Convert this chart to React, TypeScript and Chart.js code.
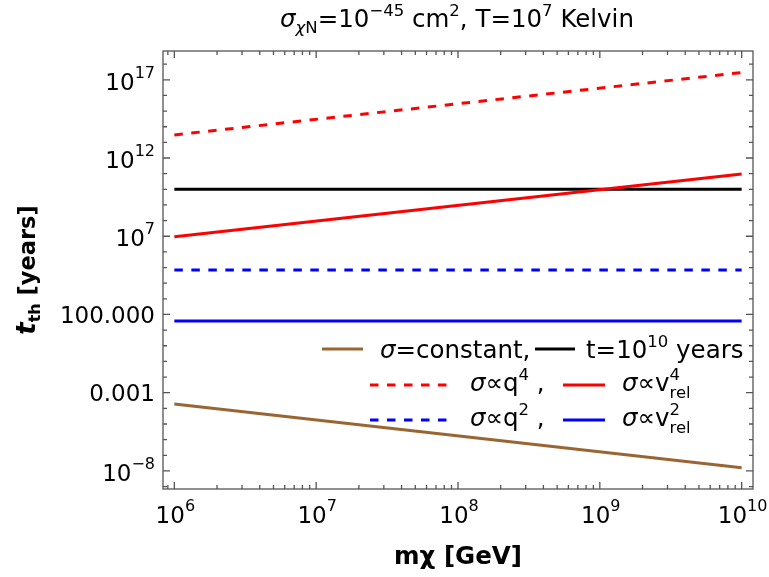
import React, { useEffect, useRef } from "react";
import { Chart, registerables } from "chart.js";
Chart.register(...registerables);

// ---- data ----
const masses = [1e6, 1e10]; // m_chi [GeV]
const tConstant = [1.9e-4, 1.6e-8]; // sigma = constant
const tAge = [1e10, 1e10]; // t = 10^10 years
const tQ4 = [3.0e13, 2.9e17]; // sigma ∝ q^4
const tV4 = [9.3e6, 9.6e10]; // sigma ∝ v_rel^4
const tQ2 = [6.9e4, 6.9e4]; // sigma ∝ q^2
const tV2 = [38, 38]; // sigma ∝ v_rel^2

const xMajorExps = [6, 7, 8, 9, 10];
const xTickBase = ["10", "10", "10", "10", "10"];
const xTickSup = ["6", "7", "8", "9", "10"];
const yMajorExps = [17, 12, 7, 2, -3, -8];
const yTickBase = ["10", "10", "10", "100.000", "0.001", "10"];
const yTickSup = ["17", "12", "7", "", "", "\u22128"];

const X_MIN_EXP = 5.92;
const X_MAX_EXP = 10.08;
const Y_MIN_EXP = -9.15;
const Y_MAX_EXP = 18.84;

const FONT = '"DejaVu Sans", sans-serif';
const BROWN = "#996633";
const RED = "#ff0000";
const BLUE = "#0000ff";
const FRAME = "#555555";

type Run = { t: string; size: number; dy?: number; italic?: boolean; bold?: boolean; back?: boolean };

function runFont(r: Run) {
  return `${r.italic ? "italic " : ""}${r.bold ? "bold " : ""}${r.size}px ${FONT}`;
}

function drawRuns(ctx: CanvasRenderingContext2D, runs: Run[], x: number, y: number, align: string, sx = 1) {
  const pos: number[] = [];
  let cx = 0;
  let prevStart = 0;
  for (const r of runs) {
    ctx.font = runFont(r);
    const w = ctx.measureText(r.t).width;
    const start = r.back ? prevStart : cx;
    pos.push(start);
    prevStart = start;
    cx = r.back ? Math.max(cx, start + w) : start + w;
  }
  const total = cx * sx;
  const x0 = align === "center" ? x - total / 2 : align === "right" ? x - total : x;
  ctx.save();
  ctx.translate(x0, y);
  ctx.scale(sx, 1);
  ctx.textAlign = "left";
  ctx.textBaseline = "alphabetic";
  runs.forEach((r, i) => {
    ctx.font = runFont(r);
    ctx.fillText(r.t, pos[i], r.dy || 0);
  });
  ctx.restore();
  return total;
}

const framePlugin = {
  id: "framePlugin",
  afterDraw(chart: any) {
    const ctx: CanvasRenderingContext2D = chart.ctx;
    const { left, right, top, bottom } = chart.chartArea;
    const xs = chart.scales.x;
    const ys = chart.scales.y;
    ctx.save();
    ctx.fillStyle = "#000";
    // frame
    ctx.strokeStyle = FRAME;
    ctx.lineWidth = 1.3;
    ctx.strokeRect(left, top, right - left, bottom - top);
    // x ticks
    ctx.beginPath();
    for (let d = 5; d <= 10; d++) {
      for (let k = 1; k <= 9; k++) {
        const v = k * Math.pow(10, d);
        const e = Math.log10(v);
        if (e < X_MIN_EXP || e > X_MAX_EXP) continue;
        const px = xs.getPixelForValue(v);
        const len = k === 1 ? 7 : 4;
        ctx.moveTo(px, bottom);
        ctx.lineTo(px, bottom - len);
        ctx.moveTo(px, top);
        ctx.lineTo(px, top + len);
      }
    }
    // y ticks
    for (let e = Math.ceil(Y_MIN_EXP); e <= Math.floor(Y_MAX_EXP); e++) {
      const py = ys.getPixelForValue(Math.pow(10, e));
      const len = yMajorExps.includes(e) ? 7 : 4;
      ctx.moveTo(left, py);
      ctx.lineTo(left + len, py);
      ctx.moveTo(right, py);
      ctx.lineTo(right - len, py);
    }
    ctx.stroke();

    // x tick labels
    ctx.fillStyle = "#000";
    xMajorExps.forEach((e, i) => {
      const px = xs.getPixelForValue(Math.pow(10, e));
      drawRuns(ctx, [
        { t: xTickBase[i], size: 23 },
        { t: xTickSup[i], size: 16, dy: -12 },
      ], px + 1, bottom + 34, "center");
    });
    // y tick labels
    yMajorExps.forEach((e, i) => {
      const py = ys.getPixelForValue(Math.pow(10, e));
      const runs: Run[] = [{ t: yTickBase[i], size: 23 }];
      let base = py + 8.5;
      if (yTickSup[i]) {
        runs.push({ t: yTickSup[i], size: 16, dy: -12 });
        base = py + 10;
      }
      drawRuns(ctx, runs, left - 8, base, "right");
    });

    // title
    const cxm = (left + right) / 2;
    drawRuns(ctx, [
      { t: "\u03c3", size: 24.5, italic: true },
      { t: "\u03c7", size: 16.5, dy: 6, italic: true },
      { t: "N", size: 16.5, dy: 6 },
      { t: "=10", size: 24.5 },
      { t: "\u221245", size: 16.5, dy: -11 },
      { t: " cm", size: 24.5 },
      { t: "2", size: 16.5, dy: -11 },
      { t: ", T=10", size: 24.5 },
      { t: "7", size: 16.5, dy: -11 },
      { t: " Kelvin", size: 24.5 },
    ], cxm - 1, 27, "center");

    // x axis title
    drawRuns(ctx, [
      { t: "m\u03c7 [GeV]", size: 24.5, bold: true },
    ], cxm, 564, "center");

    // y axis title
    ctx.save();
    ctx.translate(35, 270);
    ctx.rotate(-Math.PI / 2);
    drawRuns(ctx, [
      { t: "t", size: 26, bold: true, italic: true },
      { t: "th", size: 16, bold: true, dy: 5 },
      { t: " [years]", size: 22.5, bold: true },
    ], 0, 0, "center");
    ctx.restore();

    // legend
    const sample = (x1: number, x2: number, y: number, color: string, dash: number[]) => {
      ctx.save();
      ctx.strokeStyle = color;
      ctx.lineWidth = 3;
      ctx.setLineDash(dash);
      ctx.beginPath();
      ctx.moveTo(x1, y);
      ctx.lineTo(x2, y);
      ctx.stroke();
      ctx.restore();
    };
    const DASH = [8.5, 8.5];
    const LS = 24.5;
    const SS = 16.5;
    const r1 = 349, r2 = 385, r3 = 420;
    sample(322, 363, r1, BROWN, []);
    drawRuns(ctx, [{ t: "\u03c3", size: LS, italic: true }, { t: "=constant,", size: LS }], 380, r1 + 9, "left");
    sample(535, 575, r1, "#000", []);
    drawRuns(ctx, [{ t: "t=10", size: LS }, { t: "10", size: SS, dy: -11 }, { t: " years", size: LS }], 586, r1 + 9, "left");

    sample(370, 447, r2, RED, DASH);
    drawRuns(ctx, [{ t: "\u03c3", size: LS, italic: true }, { t: "\u221dq", size: LS }, { t: "4", size: SS, dy: -11 }, { t: " ,", size: LS }], 470, r2 + 6, "left");
    sample(563, 605, r2, RED, []);
    drawRuns(ctx, [{ t: "\u03c3", size: LS, italic: true }, { t: "\u221dv", size: LS }, { t: "4", size: SS, dy: -11 }, { t: "rel", size: SS, dy: 7, back: true }], 622, r2 + 6, "left");

    sample(370, 447, r3, BLUE, DASH);
    drawRuns(ctx, [{ t: "\u03c3", size: LS, italic: true }, { t: "\u221dq", size: LS }, { t: "2", size: SS, dy: -11 }, { t: " ,", size: LS }], 470, r3 + 6, "left");
    sample(563, 605, r3, BLUE, []);
    drawRuns(ctx, [{ t: "\u03c3", size: LS, italic: true }, { t: "\u221dv", size: LS }, { t: "2", size: SS, dy: -11 }, { t: "rel", size: SS, dy: 7, back: true }], 622, r3 + 6, "left");

    ctx.restore();
  },
};

function toPts(ys: number[]) {
  return masses.map((m, i) => ({ x: m, y: ys[i] }));
}

export default function App() {
  const ref = useRef<HTMLCanvasElement | null>(null);
  useEffect(() => {
    if (!ref.current) return;
    const common = { pointRadius: 0, borderWidth: 3, tension: 0, fill: false };
    const chart = new Chart(ref.current, {
      type: "line",
      data: {
        datasets: [
          { label: "σ∝v_rel^4", data: toPts(tV4), borderColor: RED, ...common },
          { label: "σ=constant", data: toPts(tConstant), borderColor: BROWN, ...common },
          { label: "σ∝q^4", data: toPts(tQ4), borderColor: RED, borderDash: [8.5, 8.5], ...common },
          { label: "σ∝q^2", data: toPts(tQ2), borderColor: BLUE, borderDash: [8.5, 8.5], ...common },
          { label: "σ∝v_rel^2", data: toPts(tV2), borderColor: BLUE, ...common },
          { label: "t=10^10 years", data: toPts(tAge), borderColor: "#000", ...common },
        ],
      },
      options: {
        animation: false,
        responsive: true,
        maintainAspectRatio: false,
        layout: { padding: { top: 51, right: 16, left: 0, bottom: 0 } },
        plugins: { legend: { display: false }, title: { display: false }, tooltip: { enabled: false } },
        scales: {
          x: {
            type: "logarithmic",
            min: Math.pow(10, X_MIN_EXP),
            max: Math.pow(10, X_MAX_EXP),
            grid: { display: false },
            border: { display: false },
            ticks: { display: false },
            afterFit: (s: any) => { s.height = 88; },
          },
          y: {
            type: "logarithmic",
            min: Math.pow(10, Y_MIN_EXP),
            max: Math.pow(10, Y_MAX_EXP),
            grid: { display: false },
            border: { display: false },
            ticks: { display: false },
            afterFit: (s: any) => { s.width = 163; },
          },
        },
      } as any,
      plugins: [framePlugin],
    });
    return () => chart.destroy();
  }, []);
  return (
    <div style={{ position: "fixed", left: 0, top: 0, width: 769, height: 577, background: "#fff" }}>
      <canvas ref={ref} />
    </div>
  );
}
